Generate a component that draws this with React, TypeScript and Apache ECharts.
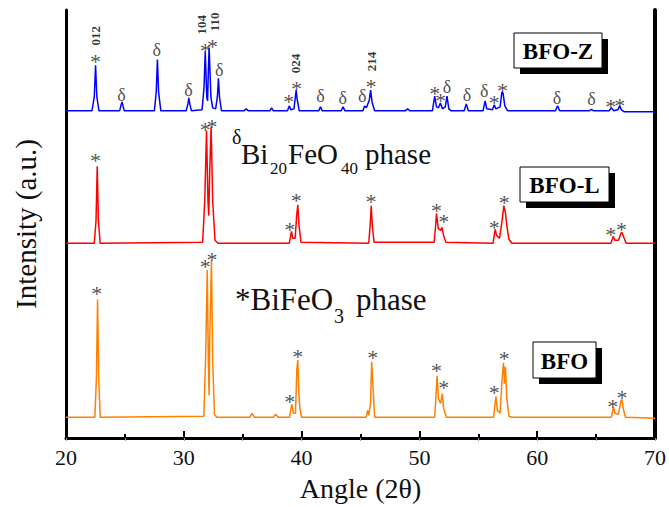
import React, { useEffect, useRef } from "react";
import * as echarts from "echarts";

// ---- Data (angle 2θ, intensity in arbitrary offset units) ----
const bfoZ: [number, number][] = [
  [20, 331], [22.2, 331], [22.4, 345], [22.51, 377], [22.62, 345], [22.8, 331],
  [24.55, 331], [24.68, 337], [24.76, 340], [24.84, 336], [24.95, 331],
  [27.5, 331], [27.66, 350], [27.76, 383], [27.86, 350], [28.05, 331],
  [30.2, 331], [30.35, 338], [30.43, 344], [30.51, 338], [30.65, 331],
  [31.55, 332], [31.72, 355], [31.82, 391], [31.95, 345], [32.02, 341], [32.08, 370], [32.15, 395], [32.3, 345], [32.45, 334],
  [32.7, 333], [32.85, 345], [32.94, 364], [33.03, 345], [33.2, 331],
  [35.1, 331], [35.3, 333], [35.5, 331],
  [37.3, 331], [37.45, 334], [37.6, 331],
  [38.8, 331], [38.95, 336], [39.1, 332], [39.35, 333], [39.47, 345], [39.54, 352], [39.62, 343], [39.8, 331],
  [41.45, 331], [41.6, 335], [41.75, 331],
  [43.35, 331], [43.52, 335], [43.68, 331],
  [45.2, 331], [45.35, 336], [45.5, 334], [45.75, 342], [45.86, 352], [45.98, 340], [46.2, 331],
  [48.8, 331], [49.0, 333], [49.2, 331],
  [51.1, 331], [51.3, 346], [51.45, 335], [51.62, 334], [51.78, 339], [51.95, 333], [52.2, 335], [52.34, 346], [52.5, 333], [52.7, 331],
  [53.8, 331], [53.98, 338], [54.15, 331],
  [55.4, 331], [55.58, 341], [55.72, 333], [56.2, 332], [56.35, 337], [56.5, 333], [56.85, 335], [57.0, 350], [57.1, 349], [57.25, 336], [57.5, 331],
  [61.55, 331], [61.73, 336], [61.9, 331],
  [64.4, 331], [64.6, 332.5], [64.8, 331],
  [66.1, 331], [66.3, 334], [66.5, 331], [66.85, 332], [67.0, 336], [67.15, 332], [67.4, 330],
  [70, 330],
];

const bfoL: [number, number][] = [
  [20, 197], [22.4, 197], [22.55, 220], [22.65, 275], [22.75, 220], [22.9, 197],
  [31.6, 198], [31.78, 240], [31.93, 311], [32.05, 240], [32.12, 225], [32.2, 270], [32.32, 315], [32.45, 240], [32.65, 200], [32.9, 197],
  [38.95, 197], [39.08, 205], [39.14, 209], [39.25, 202], [39.45, 202], [39.58, 225], [39.68, 236], [39.78, 215], [39.95, 198],
  [45.7, 197], [45.82, 215], [45.91, 235], [46.0, 215], [46.15, 198],
  [51.25, 198], [51.38, 215], [51.45, 227], [51.6, 212], [51.8, 210], [51.92, 213], [52.05, 205], [52.25, 198],
  [56.25, 197], [56.38, 207], [56.44, 211], [56.55, 205], [56.8, 202], [57.02, 220], [57.17, 235], [57.3, 228], [57.42, 215], [57.6, 201], [57.85, 197],
  [66.25, 197], [66.4, 202], [66.45, 204], [66.6, 200], [66.9, 200], [67.1, 207], [67.2, 208], [67.35, 203], [67.55, 197],
  [70, 197],
];

const bfo: [number, number][] = [
  [20, 21], [22.45, 21], [22.58, 60], [22.68, 140], [22.78, 60], [22.9, 21],
  [31.7, 22], [31.85, 80], [31.99, 170], [32.08, 80], [32.15, 43], [32.2, 100], [32.35, 180], [32.45, 80], [32.6, 24], [32.8, 21],
  [35.6, 21], [35.8, 25], [36.0, 21],
  [37.6, 21], [37.8, 24], [38.0, 21],
  [38.98, 21], [39.1, 30], [39.18, 34], [39.3, 25], [39.48, 25], [39.6, 70], [39.68, 79], [39.75, 50], [39.85, 30], [40.0, 21],
  [45.5, 21], [45.6, 28], [45.7, 23], [45.85, 35], [45.95, 77], [46.07, 50], [46.2, 21],
  [51.3, 21], [51.42, 45], [51.5, 63], [51.62, 40], [51.8, 35], [51.95, 45], [52.05, 30], [52.3, 21],
  [56.3, 21], [56.42, 35], [56.5, 42], [56.62, 28], [56.85, 25], [57.02, 60], [57.14, 76], [57.22, 55], [57.3, 72], [57.42, 40], [57.6, 22], [57.85, 21],
  [66.3, 21], [66.42, 29], [66.48, 31], [66.6, 25], [66.9, 24], [67.1, 37], [67.2, 39], [67.3, 30], [67.5, 21],
  [70, 20],
];

// BiFeO3 (*) markers
const starMarks: [number, number][] = [
  // BFO-Z
  [22.5, 385], [31.82, 396], [32.44, 400], [38.9, 344], [39.56, 358], [45.9, 360],
  [51.3, 353], [51.8, 345], [56.35, 343], [57.06, 356], [66.24, 339], [67.0, 340],
  // BFO-L
  [22.5, 285], [31.82, 316], [32.4, 319], [39.0, 215], [39.54, 244], [45.9, 243],
  [51.45, 234], [52.06, 223], [56.35, 217], [57.2, 242], [66.24, 210], [67.15, 215],
  // BFO
  [22.6, 150], [31.82, 178], [32.4, 185], [39.0, 41], [39.68, 86], [46.05, 85],
  [51.45, 72], [52.06, 55], [56.35, 50], [57.2, 84], [66.41, 36], [67.2, 45],
];

// Bi20FeO40 (δ) markers
const deltaMarks: [number, number][] = [
  [24.7, 347], [27.7, 393], [30.4, 352], [33.0, 372], [41.6, 346], [43.5, 344],
  [45.15, 346], [52.35, 355], [54.04, 347], [55.5, 351], [61.68, 344], [64.6, 343],
];

// Miller indices
const millerMarks: [number, number, string][] = [
  [22.5, 407, "012"], [31.48, 418, "104"], [32.6, 421, "110"], [39.5, 379, "024"], [45.9, 381, "214"],
];

const xTicks = [20, 30, 40, 50, 60, 70];

const SERIF = "Liberation Serif";

function boxLabel(text: string, x: number, y: number, w: number, h: number) {
  return {
    type: "group",
    children: [
      { type: "rect", shape: { x: x + 6, y: y + 6, width: w, height: h }, style: { fill: "#000" } },
      { type: "rect", shape: { x, y, width: w, height: h }, style: { fill: "#fff", stroke: "#000", lineWidth: 1 } },
      {
        type: "text",
        x: x + w / 2,
        y: y + h / 2 + 1,
        style: { text, fontFamily: SERIF, fontWeight: "bold", fontSize: 23, fill: "#000", align: "center", verticalAlign: "middle" },
      },
    ],
  };
}

function txt(text: string, x: number, y: number, size: number) {
  return {
    type: "text",
    x,
    y,
    style: { text, fontFamily: SERIF, fontSize: size, fill: "#111", align: "left", verticalAlign: "middle" },
  };
}

export default function App() {
  const ref = useRef<HTMLDivElement>(null);
  useEffect(() => {
    if (!ref.current) return;
    const chart = echarts.init(ref.current, undefined, { renderer: "svg" });
    const labelBase = { show: true, position: "inside", fontFamily: SERIF, color: "#222" };
    chart.setOption({
      animation: false,
      backgroundColor: "#fff",
      textStyle: { fontFamily: SERIF },
      grid: { left: 66, right: 12, top: 10, bottom: 64, containLabel: false },
      xAxis: [
        {
          type: "value",
          min: xTicks[0],
          max: xTicks[xTicks.length - 1],
          interval: 10,
          position: "bottom",
          name: "Angle (2θ)",
          nameLocation: "middle",
          nameGap: 36,
          nameTextStyle: { fontFamily: SERIF, fontSize: 28, color: "#111" },
          axisLine: { show: true, lineStyle: { color: "#000", width: 3 } },
          axisTick: { show: true, inside: true, length: 7, lineStyle: { color: "#000", width: 2 } },
          minorTick: { show: true, splitNumber: 2, length: 4, lineStyle: { color: "#000", width: 2 } },
          axisLabel: { show: true, margin: 8, fontFamily: SERIF, fontSize: 22, color: "#111" },
          splitLine: { show: false },
        },
        {
          type: "value",
          min: 20,
          max: 70,
          interval: 5,
          position: "top",
          axisLine: { show: true, lineStyle: { color: "#000", width: 2 } },
          axisTick: { show: true, inside: true, length: 3, lineStyle: { color: "#999", width: 1 } },
          axisLabel: { show: false },
          splitLine: { show: false },
        },
      ],
      yAxis: [
        {
          type: "value",
          min: 0,
          max: 433,
          position: "left",
          name: "Intensity (a.u.)",
          nameLocation: "middle",
          nameGap: 26,
          nameTextStyle: { fontFamily: SERIF, fontSize: 29, color: "#111" },
          axisLine: { show: true, lineStyle: { color: "#000", width: 3 } },
          axisTick: { show: false },
          axisLabel: { show: false },
          splitLine: { show: false },
        },
        {
          type: "value",
          min: 0,
          max: 433,
          position: "right",
          axisLine: { show: true, lineStyle: { color: "#000", width: 4 } },
          axisTick: { show: false },
          axisLabel: { show: false },
          splitLine: { show: false },
        },
      ],
      series: [
        { name: "BFO-Z", type: "line", data: bfoZ, symbol: "none", lineStyle: { color: "#0000ff", width: 1.5 }, z: 3 },
        { name: "BFO-L", type: "line", data: bfoL, symbol: "none", lineStyle: { color: "#ff0000", width: 1.5 }, z: 3 },
        { name: "BFO", type: "line", data: bfo, symbol: "none", lineStyle: { color: "#ff8000", width: 1.5 }, z: 3 },
        {
          type: "scatter",
          data: starMarks,
          symbolSize: 1,
          itemStyle: { color: "rgba(0,0,0,0)" },
          clip: false,
          z: 4,
          label: { ...labelBase, fontSize: 22, offset: [0, 4], formatter: () => "*" },
        },
        {
          type: "scatter",
          data: deltaMarks,
          symbolSize: 1,
          itemStyle: { color: "rgba(0,0,0,0)" },
          clip: false,
          z: 4,
          label: { ...labelBase, fontSize: 18, formatter: () => "δ" },
        },
        {
          type: "scatter",
          data: millerMarks,
          symbolSize: 1,
          itemStyle: { color: "rgba(0,0,0,0)" },
          clip: false,
          z: 4,
          label: { ...labelBase, fontSize: 13, fontWeight: "bold", color: "#000", rotate: 90, formatter: (p: any) => p.data[2] },
        },
      ],
      graphic: [
        boxLabel("BFO-Z", 514, 33, 88, 35),
        boxLabel("BFO-L", 520, 167, 89, 35),
        boxLabel("BFO", 533, 342, 63, 36),
        txt("δ", 232, 137, 20),
        txt("Bi", 241, 154, 29),
        txt("20", 270, 168, 17),
        txt("FeO", 288, 154, 29),
        txt("40", 341, 168, 17),
        txt("phase", 365, 154, 29),
        txt("*BiFeO", 235, 299, 31),
        txt("3", 334, 316, 20),
        txt("phase", 356, 299, 31),
      ],
    });
    return () => chart.dispose();
  }, []);
  return <div ref={ref} style={{ width: 669, height: 507, position: "absolute", left: 0, top: 0 }} />;
}
